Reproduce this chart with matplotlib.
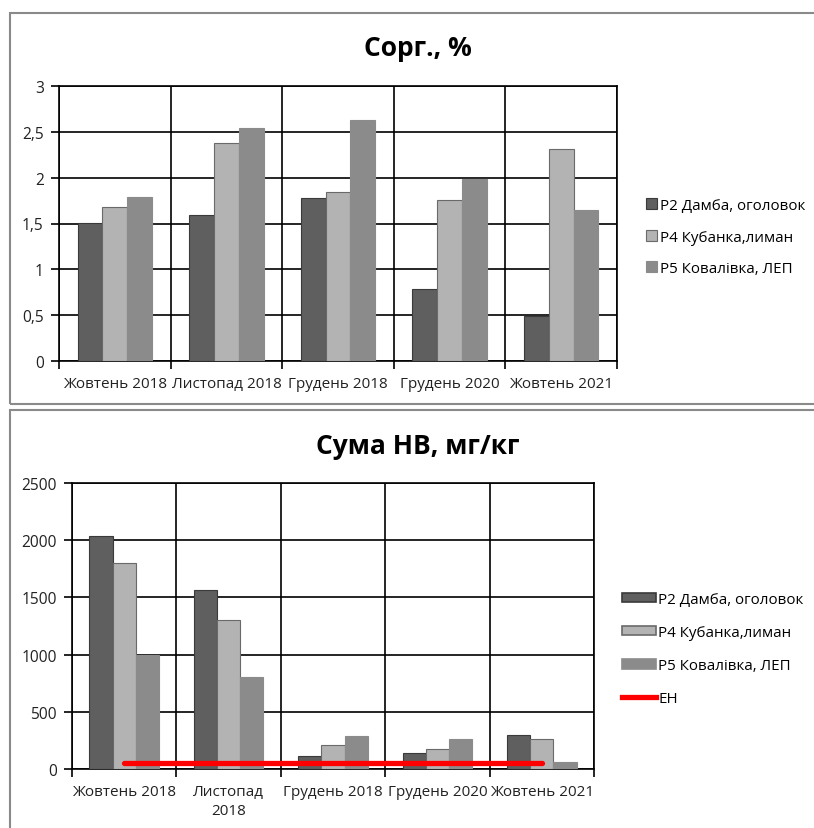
import matplotlib
matplotlib.use("Agg")
import matplotlib.pyplot as plt
from matplotlib.patches import Rectangle, Patch
from matplotlib.lines import Line2D
import numpy as np

plt.rcParams['font.family'] = ['Open Sans', 'DejaVu Sans']

# sampling dates
months_top = ["Жовтень 2018", "Листопад 2018", "Грудень 2018", "Грудень 2020", "Жовтень 2021"]
months_bottom = ["Жовтень 2018", "Листопад\n2018", "Грудень 2018", "Грудень 2020", "Жовтень 2021"]
stations = ["Р2 Дамба, оголовок", "Р4 Кубанка,лиман", "Р5 Ковалівка, ЛЕП"]

# organic carbon, %
corg_p2 = [1.51, 1.59, 1.78, 0.79, 0.49]
corg_p4 = [1.68, 2.38, 1.84, 1.76, 2.31]
corg_p5 = [1.79, 2.54, 2.63, 1.99, 1.65]

# sum of heavy metals, mg/kg
hm_p2 = [2040, 1565, 115, 140, 300]
hm_p4 = [1800, 1300, 210, 175, 265]
hm_p5 = [1000, 800, 290, 260, 60]
hm_limit = [50, 50, 50, 50, 50]

corg_ticks = [0, 0.5, 1, 1.5, 2, 2.5, 3]
corg_ticklabels = ["0", "0,5", "1", "1,5", "2", "2,5", "3"]
hm_ticks = [0, 500, 1000, 1500, 2000, 2500]

colors = ["#5f5f5f", "#b3b3b3", "#8b8b8b"]
edges = ["#3a3a3a", "#6a6a6a", "#8b8b8b"]

W, H = 814, 829
fig = plt.figure(figsize=(W / 100, H / 100), dpi=100)


def px_axes(left, top, right, bottom):
    return fig.add_axes([left / W, 1 - bottom / H, (right - left) / W, (bottom - top) / H])


def draw_bars(ax, series, labels, ticks, ticklabels, ymax):
    x = np.arange(len(labels))
    width = 0.222
    for i, vals in enumerate(series):
        ax.bar(x + (i - 1) * width, vals, width, color=colors[i],
               edgecolor=edges[i], linewidth=0.8, zorder=3)
    ax.set_xlim(-0.5, len(labels) - 0.5)
    ax.set_ylim(0, ymax)
    ax.set_yticks(ticks)
    ax.set_yticklabels(ticklabels, fontsize=11.2, color="#222222")
    ax.set_xticks(x)
    ax.set_xticklabels(labels, fontsize=11, color="#222222", linespacing=1.3)
    ax.set_xticks(np.arange(-0.5, len(labels)), minor=True)
    ax.tick_params(axis="x", which="major", length=0, pad=11)
    ax.tick_params(axis="x", which="minor", length=6, width=1.2, direction="out")
    ax.tick_params(axis="y", length=6, width=1.2, direction="out", pad=5)
    ax.grid(True, axis="y", color="black", linewidth=1.2, zorder=1)
    ax.grid(True, axis="x", which="minor", color="black", linewidth=1.2, zorder=1)
    for s in ax.spines.values():
        s.set_linewidth(1.2)
        s.set_color("black")
    ax.set_axisbelow(True)


# panel frames (right and lower sides run past the image edge)
fig.patches.append(Rectangle((10 / W, 1 - 405 / H), 820 / W, 391 / H,
                             transform=fig.transFigure, fill=False,
                             edgecolor="#8a8a8a", linewidth=1.5))
fig.patches.append(Rectangle((10 / W, 1 - 840 / H), 820 / W, 429 / H,
                             transform=fig.transFigure, fill=False,
                             edgecolor="#8a8a8a", linewidth=1.5))

# top chart: organic carbon
ax1 = px_axes(59, 87, 617, 362)
draw_bars(ax1, [corg_p2, corg_p4, corg_p5], months_top, corg_ticks, corg_ticklabels, 3)
fig.text(418 / W, 1 - 48 / H, "Сорг., %", ha="center", va="center",
         fontsize=19, fontweight="bold")
h1 = [Patch(facecolor=colors[i], edgecolor=edges[i], linewidth=0.8) for i in range(3)]
fig.legend(h1, stations, loc="center left", bbox_to_anchor=(632 / W, 1 - 238 / H),
           frameon=False, fontsize=10.9, handlelength=0.75, handleheight=0.75,
           handletextpad=0.2, labelspacing=1.1)

# bottom chart: heavy metals
ax2 = px_axes(72, 484, 594, 770)
draw_bars(ax2, [hm_p2, hm_p4, hm_p5], months_bottom, hm_ticks,
          [str(t) for t in hm_ticks], 2500)
ax2.plot(np.arange(len(hm_limit)), hm_limit, color="red", linewidth=3.8,
         solid_capstyle="round", zorder=4)
fig.text(418 / W, 1 - 447 / H, "Сума НВ, мг/кг", ha="center", va="center",
         fontsize=19, fontweight="bold")
h2 = [Patch(facecolor=colors[i], edgecolor=edges[i], linewidth=1.2) for i in range(3)]
h2.append(Line2D([], [], color="red", linewidth=3.8))
fig.legend(h2, stations + ["ЕН"], loc="center left", bbox_to_anchor=(608 / W, 1 - 650 / H),
           frameon=False, fontsize=10.9, handlelength=2.3, handleheight=0.6,
           handletextpad=0.12, labelspacing=1.2)

fig.savefig("out.png", dpi=100)
